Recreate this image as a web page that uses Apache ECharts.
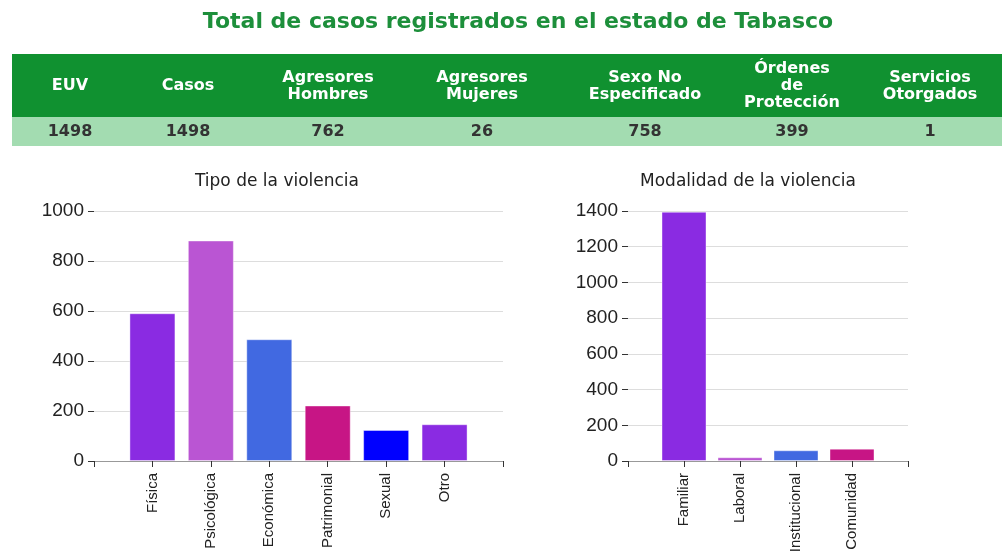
<!DOCTYPE html>
<html>
<head>
<meta charset="utf-8">
<script src="https://cdn.jsdelivr.net/npm/echarts@6/dist/echarts.min.js"></script>
<style>
  html, body { margin: 0; padding: 0; background: #fff; }
  #main { width: 1002px; height: 559px; }
</style>
</head>
<body>
<div id="main"></div>
<script>
// encabezados y valores de la tabla
const tableHeaders = ["EUV", "Casos", "Agresores\nHombres", "Agresores\nMujeres", "Sexo No\nEspecificado", "Órdenes\nde\nProtección", "Servicios\nOtorgados"]
const tableValues = [1498, 1498, 762, 26, 758, 399, 1]
const tableCenters = [70, 188, 328, 482, 645, 792, 930]

// Tipo de la violencia
const tipoCategorias = ["Física", "Psicológica", "Económica", "Patrimonial", "Sexual", "Otro"]
const tipoValores = [591, 882, 487, 222, 124, 147]
const tipoColores = ["#8a2be2", "#ba55d3", "#4169e1", "#c71585", "#0000ff", "#8a2be2"]

// Modalidad de la violencia
const modCategorias = ["Familiar", "Laboral", "Institucional", "Comunidad"]
const modValores = [1396, 21, 60, 69]
const modColores = ["#8a2be2", "#ba55d3", "#4169e1", "#c71585"]

const chartDom = document.getElementById("main")
const myChart = echarts.init(chartDom)

// un hueco vacio a cada lado, como en el original
function pad(arr, v) {
  return [v].concat(arr, [v])
}
function barData(vals, colors) {
  return pad(vals.map((v, i) => ({ value: v, itemStyle: { color: colors[i] } })), "-")
}

const tableGraphics = [
  { type: "rect", shape: { x: 12, y: 54, width: 990, height: 63 }, style: { fill: "#109130" } },
  { type: "rect", shape: { x: 12, y: 117, width: 990, height: 29 }, style: { fill: "#a3dcb1" } },
]
tableHeaders.forEach((h, i) => {
  tableGraphics.push({
    type: "text",
    x: tableCenters[i],
    y: 86,
    style: {
      text: h,
      align: "center",
      verticalAlign: "middle",
      fill: "#ffffff",
      font: "bold 16px 'DejaVu Sans'",
      lineHeight: 17,
    },
  })
})
tableValues.forEach((v, i) => {
  tableGraphics.push({
    type: "text",
    x: tableCenters[i],
    y: 132,
    style: {
      text: String(v),
      align: "center",
      verticalAlign: "middle",
      fill: "#333333",
      font: "bold 16px 'DejaVu Sans'",
    },
  })
})

function xAxisCfg(gridIndex, cats) {
  return {
    type: "category",
    gridIndex: gridIndex,
    boundaryGap: false,
    data: pad(cats, ""),
    axisLine: { show: true, lineStyle: { color: "#999", width: 1 } },
    axisTick: { show: true, length: 6, lineStyle: { color: "#333" } },
    axisLabel: {
      rotate: 90,
      interval: 0,
      margin: 12,
      color: "#222",
      fontFamily: "Liberation Sans",
      fontSize: 15,
    },
    splitLine: { show: false },
  }
}
function yAxisCfg(gridIndex, max) {
  return {
    type: "value",
    gridIndex: gridIndex,
    min: 0,
    max: max,
    interval: 200,
    axisLine: { show: false },
    axisTick: { show: true, length: 6, lineStyle: { color: "#333" } },
    axisLabel: {
      color: "#222",
      fontFamily: "Liberation Sans",
      fontSize: 19,
      margin: 10,
      formatter: (v) => String(v),
    },
    splitLine: { show: true, lineStyle: { color: "#dddddd" } },
  }
}

let option = {
  animation: false,
  title: [
    {
      text: "Total de casos registrados en el estado de Tabasco",
      left: 513,
      top: 6,
      textAlign: "center",
      textStyle: { color: "#1d8f3b", fontFamily: "DejaVu Sans", fontWeight: "bold", fontSize: 22 },
    },
    {
      text: "Tipo de la violencia",
      left: 272,
      top: 168,
      textAlign: "center",
      textStyle: { color: "#222", fontFamily: "DejaVu Sans", fontWeight: "normal", fontSize: 17 },
    },
    {
      text: "Modalidad de la violencia",
      left: 743,
      top: 168,
      textAlign: "center",
      textStyle: { color: "#222", fontFamily: "DejaVu Sans", fontWeight: "normal", fontSize: 17 },
    },
  ],
  graphic: tableGraphics,
  grid: [
    { left: 94, top: 211, width: 409, height: 250 },
    { left: 628, top: 211, width: 280, height: 250 },
  ],
  xAxis: [xAxisCfg(0, tipoCategorias), xAxisCfg(1, modCategorias)],
  yAxis: [yAxisCfg(0, 1000), yAxisCfg(1, 1400)],
  series: [
    {
      type: "bar",
      xAxisIndex: 0,
      yAxisIndex: 0,
      barWidth: 46,
      itemStyle: { borderColor: "rgba(255,255,255,0.4)", borderWidth: 1 },
      data: barData(tipoValores, tipoColores),
    },
    {
      type: "bar",
      xAxisIndex: 1,
      yAxisIndex: 1,
      barWidth: 45,
      itemStyle: { borderColor: "rgba(255,255,255,0.4)", borderWidth: 1 },
      data: barData(modValores, modColores),
    },
  ],
}
myChart.setOption(option)
</script>
</body>
</html>
